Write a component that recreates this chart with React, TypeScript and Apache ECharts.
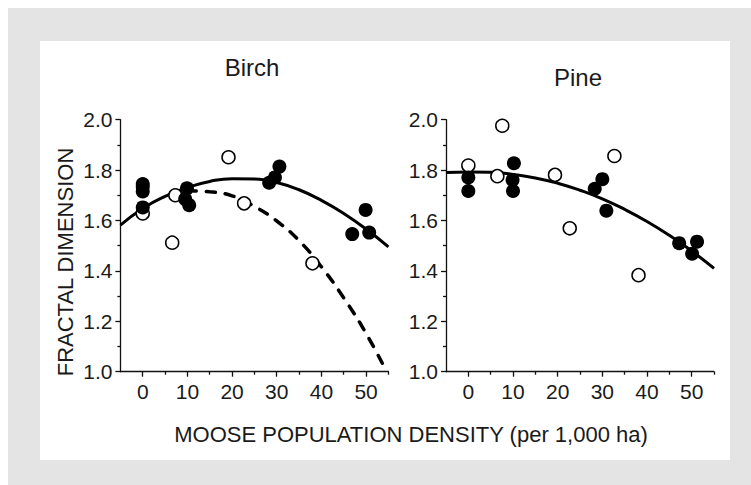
import React, { useEffect, useRef } from "react";
import * as echarts from "echarts";

// ---------- data ----------
const xMajorTicks = [0, 10, 20, 30, 40, 50];
const xMinorTicks = [5, 15, 25, 35, 45, 55];

// Birch
const birchFilledX = [0, 0, 0, 0, 9.5, 9.9, 10.4, 28.3, 29.6, 30.6, 46.9, 49.9, 50.7];
const birchFilledY = [1.745, 1.733, 1.715, 1.652, 1.685, 1.728, 1.661, 1.75, 1.771, 1.814, 1.546, 1.642, 1.552];
const birchOpenX = [0, 6.6, 7.3, 19.2, 22.7, 38.0];
const birchOpenY = [1.628, 1.512, 1.7, 1.851, 1.668, 1.43];
const birchFitX = [-5, 0, 5, 10, 15, 20, 25, 30, 35, 40, 45, 50, 55];
const birchFitY = [1.582, 1.648, 1.696, 1.731, 1.755, 1.766, 1.765, 1.751, 1.722, 1.68, 1.628, 1.566, 1.495];
const birchDashX = [10, 15, 20, 25, 30, 35, 40, 45, 50, 54.6];
const birchDashY = [1.718, 1.714, 1.698, 1.656, 1.598, 1.52, 1.416, 1.293, 1.152, 1.0];

// Pine
const pineFilledX = [0, 0, 10.2, 9.9, 10.0, 28.3, 30.0, 30.9, 47.2, 50.1, 51.2];
const pineFilledY = [1.771, 1.717, 1.827, 1.761, 1.717, 1.726, 1.764, 1.639, 1.51, 1.468, 1.516];
const pineOpenX = [0, 6.5, 7.6, 19.4, 22.7, 32.7, 38.1];
const pineOpenY = [1.818, 1.776, 1.976, 1.781, 1.569, 1.856, 1.383];
const pineFitX = [-5, 0, 5, 10, 15, 20, 25, 30, 35, 40, 45, 50, 55];
const pineFitY = [1.79, 1.792, 1.791, 1.783, 1.769, 1.748, 1.72, 1.686, 1.644, 1.596, 1.541, 1.479, 1.41];

const panelTitles = ["Birch", "Pine"];
const yAxisTitle = "FRACTAL DIMENSION";
const xAxisTitle = "MOOSE POPULATION DENSITY (per 1,000 ha)";

// ---------- helpers ----------
const zip = (xs: number[], ys: number[]) => xs.map((x, i) => [x, ys[i]]);

const FONT = "'Liberation Sans', Arial, Helvetica, sans-serif";
const INK = "#000000";
const TEXT = "#1a1a1a";

export default function App() {
  const ref = useRef<HTMLDivElement>(null);

  useEffect(() => {
    if (!ref.current) return;
    const chart = echarts.init(ref.current, undefined, { renderer: "svg" });

    const grids = [
      { left: 112.4, top: 111.7, width: 268, height: 252 },
      { left: 438, top: 111.7, width: 268, height: 252 },
    ];

    const axisLineStyle = { color: "#111111", width: 1.3 };

    const xAxes: any[] = [];
    const yAxes: any[] = [];
    grids.forEach((_, g) => {
      xAxes.push({
        gridIndex: g,
        type: "value",
        position: "bottom",
        min: -5,
        max: 55,
        axisLine: { show: true, onZero: false, lineStyle: axisLineStyle },
        axisTick: { show: true, length: 5, customValues: xMajorTicks, lineStyle: axisLineStyle },
        axisLabel: {
          customValues: xMajorTicks,
          margin: 9,
          fontSize: 21,
          color: TEXT,
          fontFamily: FONT,
        },
        splitLine: { show: false },
      });
      xAxes.push({
        gridIndex: g,
        type: "value",
        position: "bottom",
        min: -5,
        max: 55,
        axisLine: { show: false, onZero: false },
        axisTick: { show: true, length: 3, customValues: xMinorTicks, lineStyle: axisLineStyle },
        axisLabel: { show: false },
        splitLine: { show: false },
      });
      yAxes.push({
        gridIndex: g,
        type: "value",
        min: 1,
        max: 2,
        interval: 0.2,
        axisLine: { show: true, onZero: false, lineStyle: axisLineStyle },
        axisTick: { show: true, length: 5, lineStyle: axisLineStyle },
        minorTick: { show: true, splitNumber: 2, length: 3, lineStyle: axisLineStyle },
        axisLabel: {
          margin: 8,
          fontSize: 21,
          color: TEXT,
          fontFamily: FONT,
          formatter: (v: number) => v.toFixed(1),
        },
        splitLine: { show: false },
        minorSplitLine: { show: false },
      });
    });

    const filledStyle = { color: INK, opacity: 1 };
    const openStyle = { color: "#ffffff", borderColor: INK, borderWidth: 1.5, opacity: 1 };

    const panelSeries = (
      g: number,
      fx: number[], fy: number[],
      ox: number[], oy: number[],
      lx: number[], ly: number[],
    ) => [
      {
        type: "line",
        xAxisIndex: g * 2,
        yAxisIndex: g,
        data: zip(lx, ly),
        smooth: true,
        showSymbol: false,
        lineStyle: { color: INK, width: 3 },
        z: 2,
      },
      {
        type: "scatter",
        xAxisIndex: g * 2,
        yAxisIndex: g,
        data: zip(ox, oy),
        symbol: "circle",
        symbolSize: 13,
        itemStyle: openStyle,
        z: 3,
      },
      {
        type: "scatter",
        xAxisIndex: g * 2,
        yAxisIndex: g,
        data: zip(fx, fy),
        symbol: "circle",
        symbolSize: 14,
        itemStyle: filledStyle,
        z: 4,
      },
    ];

    const series: any[] = [
      {
        type: "line",
        xAxisIndex: 0,
        yAxisIndex: 0,
        data: zip(birchDashX, birchDashY),
        smooth: true,
        showSymbol: false,
        lineStyle: { color: INK, width: 3.5, type: [9, 10], cap: "round" },
        z: 2,
      },
      ...panelSeries(0, birchFilledX, birchFilledY, birchOpenX, birchOpenY, birchFitX, birchFitY),
      ...panelSeries(1, pineFilledX, pineFilledY, pineOpenX, pineOpenY, pineFitX, pineFitY),
    ];

    const textStyle = (text: string, size: number) => ({
      text,
      fontSize: size,
      fontFamily: FONT,
      fill: TEXT,
      align: "center",
      verticalAlign: "middle",
    });

    chart.setOption({
      animation: false,
      backgroundColor: "transparent",
      grid: grids,
      xAxis: xAxes,
      yAxis: yAxes,
      series,
      graphic: [
        { type: "text", x: 244, y: 59, style: textStyle(panelTitles[0], 24) },
        { type: "text", x: 570, y: 69, style: textStyle(panelTitles[1], 24) },
        { type: "text", x: 57, y: 254, rotation: Math.PI / 2, style: textStyle(yAxisTitle, 22) },
        { type: "text", x: 403, y: 426, style: textStyle(xAxisTitle, 22) },
      ],
    });

    return () => chart.dispose();
  }, []);

  return (
    <div
      style={{
        position: "fixed",
        left: 8,
        top: 8,
        width: 743,
        height: 477,
        background: "#e4e4e4",
        overflow: "hidden",
      }}
    >
      <div
        style={{
          position: "absolute",
          left: 32,
          top: 33,
          width: 690,
          height: 419,
          background: "#ffffff",
        }}
      />
      <div ref={ref} style={{ position: "absolute", left: 0, top: 0, width: 743, height: 477 }} />
    </div>
  );
}
